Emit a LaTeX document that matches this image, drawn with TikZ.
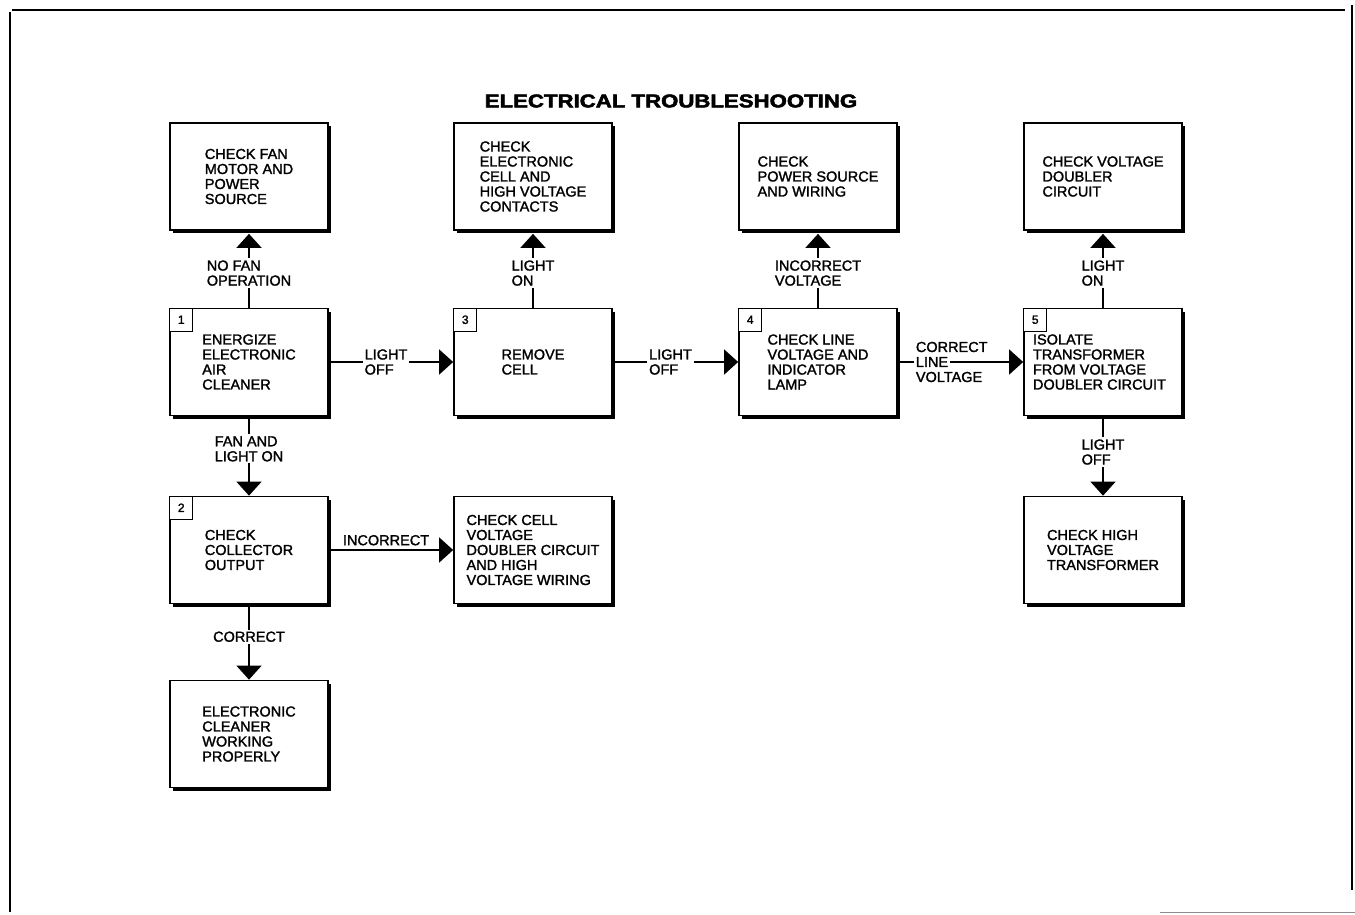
\documentclass[tikz,border=0pt]{standalone}
\usepackage{fontspec}
\usepackage{graphicx}
\setmainfont{Liberation Sans}
\newfontfamily\boxfont{Liberation Sans}[FakeBold=1.6]
\newfontfamily\ttlfont{Liberation Sans Bold}[FakeBold=2.5]
\usetikzlibrary{arrows.meta,shadows}
\newcommand\boxtext{\boxfont\fontsize{14.5}{15}\selectfont}
\newcommand\tagtext{\boxfont\fontsize{12}{13}\selectfont}
\newcommand\ttltext{\ttlfont\fontsize{18.5}{20}\selectfont}
\tikzset{
  box/.style={draw, line width=1.7pt, fill=white, minimum width=158pt, minimum height=107pt,
    align=left, font=\boxtext, inner sep=0pt,
    drop shadow={shadow xshift=3.2pt, shadow yshift=-3.2pt, opacity=1, fill=black}},
  tagbox/.style={draw, line width=1.2pt, fill=white, minimum size=23pt, inner sep=0pt,
    anchor=north west, font=\tagtext},
  conn/.style={line width=1.3pt, -{Triangle[length=14pt,width=25pt]}},
  lbl/.style={fill=white, align=left, inner sep=2pt, font=\boxtext},
  lblnf/.style={align=left, inner sep=0pt, font=\boxtext},
  frame/.style={line width=2.5pt}
}
\begin{document}
\begin{tikzpicture}[x=1pt,y=-1pt]
\useasboundingbox (0,0) rectangle (1355,915);
% page frame
\draw[frame] (12,10) -- (1345,10);
\draw[frame] (10,12) -- (10,912);
\draw[line width=2pt] (1352,5) -- (1352,890);
\draw[line width=1pt, black!45] (1160,912) -- (1355,912);
% title
\node (title) at (671,101) {\ttltext\scalebox{1.2}[1]{ELECTRICAL TROUBLESHOOTING}};
% column 1
\node[box] (bA) at (249,176.5) {CHECK FAN\\MOTOR AND\\POWER\\SOURCE};
\node[box] (b1) at (249,362) {ENERGIZE\\ELECTRONIC\\AIR\\CLEANER};
\node[box] (b2) at (249,550) {CHECK\\COLLECTOR\\OUTPUT};
\node[box] (bF) at (249,734) {ELECTRONIC\\CLEANER\\WORKING\\PROPERLY};
% column 2
\node[box] (bB) at (533,176.5) {CHECK\\ELECTRONIC\\CELL AND\\HIGH VOLTAGE\\CONTACTS};
\node[box] (b3) at (533,362) {REMOVE\\CELL};
\node[box] (bG) at (533,550) {CHECK CELL\\VOLTAGE\\DOUBLER CIRCUIT\\AND HIGH\\VOLTAGE WIRING};
% column 3
\node[box] (bC) at (818,176.5) {CHECK\\POWER SOURCE\\AND WIRING};
\node[box] (b4) at (818,362) {CHECK LINE\\VOLTAGE AND\\INDICATOR\\LAMP};
% column 4
\node[box] (bD) at (1103,176.5) {CHECK VOLTAGE\\DOUBLER\\CIRCUIT};
\node[box] (b5) at (1103,362) {\raisebox{-7pt}{\parbox{140pt}{ISOLATE\\TRANSFORMER\\FROM VOLTAGE\\DOUBLER CIRCUIT}}};
\node[box] (bE) at (1103,550) {CHECK HIGH\\VOLTAGE\\TRANSFORMER};
% number tags
\node[tagbox] (t1) at (b1.north west) {1};
\node[tagbox] (t2) at (b2.north west) {2};
\node[tagbox] (t3) at (b3.north west) {3};
\node[tagbox] (t4) at (b4.north west) {4};
\node[tagbox] (t5) at (b5.north west) {5};
% connectors
\draw[conn, shorten >=3pt] (b1) -- node[lbl,pos=0.45]{NO FAN\\OPERATION} (bA);
\draw[conn] (b1.south) -- node[lbl,pos=0.41]{FAN AND\\LIGHT ON} (b2.north);
\draw[conn] (b2.south) -- node[lbl,pos=0.43]{CORRECT} (bF.north);
\draw[conn] (b1.east) -- node[lbl,pos=0.46]{LIGHT\\OFF} (b3.west);
\draw[conn] (b2.east) -- node[lblnf,pos=0.46,above=4pt]{INCORRECT} (bG.west);
\draw[conn, shorten >=3pt] (b3) -- node[lbl,pos=0.45]{LIGHT\\ON} (bB);
\draw[conn] (b3.east) -- node[lbl,pos=0.46]{LIGHT\\OFF} (b4.west);
\draw[conn, shorten >=3pt] (b4) -- node[lbl,pos=0.45]{INCORRECT\\VOLTAGE} (bC);
\draw[conn] (b4.east) -- node[lblnf,pos=0.43]{CORRECT\\{\setlength\fboxsep{1.5pt}\hspace{-1.5pt}\colorbox{white}{LINE}}\\VOLTAGE} (b5.west);
\draw[conn, shorten >=3pt] (b5) -- node[lbl,pos=0.45]{LIGHT\\ON} (bD);
\draw[conn] (b5.south) -- node[lbl,pos=0.45]{LIGHT\\OFF} (bE.north);
\end{tikzpicture}
\end{document}
